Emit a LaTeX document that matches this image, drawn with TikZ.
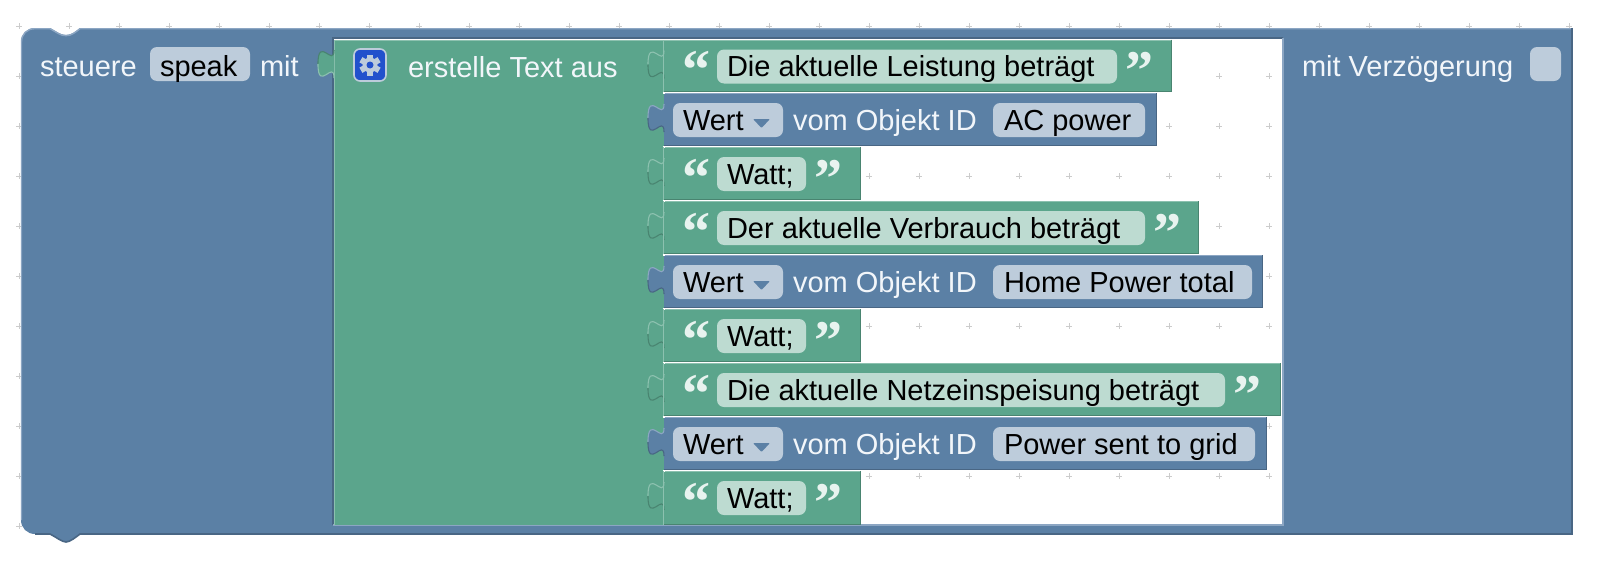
\documentclass[tikz,border=0pt]{standalone}
\usepackage{fontspec}
\setmainfont{Liberation Sans}
\newfontfamily\quotefont{Liberation Serif}
\definecolor{bfill}{HTML}{5B80A5}
\definecolor{blight}{HTML}{8CA6C3}
\definecolor{bdark}{HTML}{496684}
\definecolor{bfield}{HTML}{BDCCDB}
\definecolor{gfill}{HTML}{5BA58C}
\definecolor{glight}{HTML}{8CC1AF}
\definecolor{gdark}{HTML}{498470}
\definecolor{gfield}{HTML}{BDDBD1}
\definecolor{gear}{HTML}{2251CC}
\definecolor{gridc}{HTML}{CCCCCC}
\definecolor{labelc}{HTML}{F2F6FA}
\tikzset{
  x=1pt,y=-1pt,
  txt/.style={inner sep=0pt,outer sep=0pt,font=\fontsize{29}{32}\selectfont},
  wlabel/.style={txt,text=labelc,anchor=base west},
  dlabel/.style={txt,text=black,anchor=base west},
  qmark/.style={inner sep=0pt,outer sep=0pt,text=gfield!35!white,font=\fontsize{56}{56}\quotefont\bfseries\selectfont,anchor=base},
  bfieldbox/.style={fill=bfield,rounded corners=7pt},
  gfieldbox/.style={fill=gfield,rounded corners=7pt},
}
% \tabshape{x}{y}{fill}{light edge}{dark edge}: puzzle tab whose top begins at (x,y)
\newcommand{\tabshape}[5]{%
  \fill[#3] (#1,#2)
    .. controls (#1,#2+18) and (#1-16,#2-15) .. (#1-16,#2+14)
    .. controls (#1-16,#2+43) and (#1,#2+9) .. (#1,#2+28) -- cycle;
  \draw[#4,line width=1.1pt] (#1,#2)
    .. controls (#1,#2+18) and (#1-16,#2-15) .. (#1-16,#2+14);
  \draw[#5,line width=1.1pt] (#1-16,#2+14)
    .. controls (#1-16,#2+43) and (#1,#2+9) .. (#1,#2+28);}
\newcommand{\stackblock}[6]{%
  \fill[#4] (664,#1) rectangle (#3,#2);
  \draw[#5,line width=1.2pt] (664,#1+.6) -- (#3,#1+.6);
  \draw[#6,line width=1.6pt] (#3-.5,#1) -- (#3-.5,#2-.6) -- (664,#2-.6);
  \draw[white,line width=1.2pt] (662.5,#1) -- (665,#1);
}
\newcommand{\wertrow}[6]{% top, bottom, right, field left, field right, text
  \stackblock{#1}{#2}{#3}{bfill}{blight}{bdark}
  \tabshape{664}{#1+11}{bfill}{blight}{bdark}
  \fill[bfieldbox] (673,#1+10) rectangle (783,#1+44);
  \node[dlabel] (wert#1) at (683,#1+37) {Wert};
  \fill[bfill,rounded corners=1pt] (753,#1+26) -- (770,#1+26) -- (761.5,#1+35) -- cycle;
  \node[wlabel] (vom#1) at (793,#1+37) {vom Objekt ID};
  \fill[bfieldbox] (#4,#1+10) rectangle (#5,#1+44);
  \node[dlabel] (obj#1) at (#4+11,#1+37) {#6};
}
\newcommand{\textrow}[5]{% top, bottom, right, field right, text
  \stackblock{#1}{#2}{#3}{gfill}{glight}{gdark}
  \tabshape{664}{#1+11}{gfill}{glight}{gdark}
  \node[qmark] (ql#1) at (696,#1+49) {“};
  \fill[gfieldbox] (717,#1+10) rectangle (#4,#1+44);
  \node[dlabel] (tx#1) at (727,#1+37) {#5};
  \node[qmark] (qr#1) at (#4+22,#1+50) {”};
}
\begin{document}
\begin{tikzpicture}
\useasboundingbox (0,0) rectangle (1598,570);
\fill[white] (0,0) rectangle (1598,570);
% grid
\foreach \gx in {19,69,...,1569}
  \foreach \gy in {26,76,...,526}
    \draw[gridc,line width=1pt] (\gx-3,\gy) -- (\gx+3,\gy) (\gx,\gy-3) -- (\gx,\gy+3);
% outer block
\fill[bfill] (21,42) .. controls (21,34) and (27,28) .. (35,28)
  -- (50,28) .. controls (56,31) and (60,35) .. (66,35) .. controls (72,35) and (76,31) .. (80,28)
  -- (1572,28) -- (1572,534) -- (80,534)
  .. controls (76,537) and (70,542) .. (66,542) .. controls (62,542) and (56,537) .. (50,534)
  -- (35,534) .. controls (27,534) and (21,528) .. (21,520) -- cycle;
\draw[blight,line width=1.4pt] (21.5,520) -- (21.5,42) .. controls (21.5,34) and (27,28.7) .. (35,28.7)
  -- (50,28.7) .. controls (56,31.7) and (60,35.7) .. (66,35.7) .. controls (72,35.7) and (76,31.7) .. (80,28.7)
  -- (1572,28.7);
\draw[bdark,line width=1.6pt] (1572,28) -- (1572,534) -- (80,534)
  .. controls (76,537) and (70,542) .. (66,542) .. controls (62,542) and (56,537) .. (50,534) -- (35,534);
% inner opening
\fill[white] (333,38) rectangle (1283,525);
\foreach \gx in {369,419,...,1269}
  \foreach \gy in {76,126,...,476}
    \draw[gridc,line width=1pt] (\gx-3,\gy) -- (\gx+3,\gy) (\gx,\gy-3) -- (\gx,\gy+3);
\draw[bdark,line width=1.4pt] (333,525) -- (333,38) -- (1283,38);
\draw[blight,line width=1.6pt] (1283,38) -- (1283,525) -- (333,525);
% green text-join block
\fill[gfill] (334,39.5) rectangle (664,525);
\draw[glight,line width=1.2pt] (334.6,525) -- (334.6,40.1) -- (664,40.1);
\draw[blight,line width=1pt] (334,525) -- (664,525);
\tabshape{334}{50}{gfill}{gdark}{glight}
% labels of outer block
\node[wlabel] (steuere) at (40,76) {steuere};
\fill[bfieldbox] (150,47) rectangle (250,81);
\node[dlabel] (speak) at (160,76) {speak};
\node[wlabel] (mit) at (260,76) {mit};
\node[wlabel] (verz) at (1302,76) {mit Verzögerung};
\fill[bfieldbox] (1530,47) rectangle (1561,81);
% gear
\draw[bfield,fill=gear,line width=1.6pt,rounded corners=6pt] (354,49) rectangle (386,81);
\fill[bfield] (370,65) circle[radius=7.5];
\foreach \ang in {0,60,...,300}
  \fill[bfield,rotate around={\ang:(370,65)}] (367,54.5) rectangle (373,60);
\fill[gear] (370,65) circle[radius=3.5];
\node[wlabel] (erst) at (408,77) {erstelle Text aus};
% rows
\textrow{39.5}{92}{1172}{1117}{Die aktuelle Leistung beträgt}
\wertrow{93}{146}{1157}{993}{1145}{AC power}
\textrow{147}{200}{861}{806}{Watt;}
\textrow{201}{254}{1199}{1145}{Der aktuelle Verbrauch beträgt}
\wertrow{255}{308}{1263}{993}{1252}{Home Power total}
\textrow{309}{362}{861}{806}{Watt;}
\textrow{363}{416}{1281}{1225}{Die aktuelle Netzeinspeisung beträgt}
\wertrow{417}{470}{1267}{993}{1255}{Power sent to grid}
\textrow{471}{525}{861}{806}{Watt;}
% light joint line down the stack
\draw[glight,line width=1pt] (663.5,41) -- (663.5,92) (663.5,147) -- (663.5,200) (663.5,201) -- (663.5,254)
  (663.5,309) -- (663.5,362) (663.5,363) -- (663.5,416) (663.5,471) -- (663.5,525);
\end{tikzpicture}
\end{document}
